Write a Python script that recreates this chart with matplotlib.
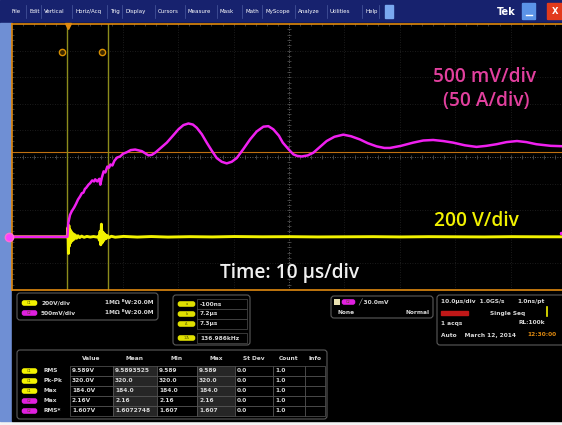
import matplotlib
matplotlib.use('Agg')
from matplotlib import pyplot as plt
from matplotlib.patches import Rectangle, FancyBboxPatch

# Waveforms, time in us from the trigger
# C2: current probe, 500 mV/div = 50 A/div
c2_time = [-10.1, -0.1, 0.05, 0.36, 0.67, 1.1, 1.45, 1.8, 2.18, 2.5,
           2.78, 3.05, 3.27, 3.69, 4.0, 4.36, 4.7, 4.9, 5.27, 5.64,
           5.82, 6.09, 6.42, 6.73, 7.09, 7.4, 7.64, 8.0, 8.36, 8.85,
           9.4, 9.9, 10.6, 11.3, 12.1, 13.3, 14.5, 15.1, 15.7, 16.7,
           17.8, 18.9, 19.9, 20.8, 21.7, 22.5, 23.2, 24.1, 25.0, 25.9,
           26.8, 27.7, 28.6, 29.5, 30.4, 31.6, 32.8, 34.0, 35.2, 36.1,
           37.0, 38.0, 38.7, 39.7, 40.6, 41.3, 42.1, 43.2, 44.2, 45.4,
           46.6, 48.0, 49.6, 51.0, 52.6, 54.0, 55.6, 57.0, 58.0, 60.0,
           62.2, 64.0, 65.8, 67.6, 69.4, 71.5, 73.6, 75.4, 77.2, 79.0,
           80.9, 82.6, 84.4, 87.0, 89.8]
c2_amps = [0, 0, 26, 41, 48, 55, 62, 70, 76, 82,
           83, 90, 92, 98, 101, 106, 104, 108, 104, 109,
           98, 111, 123, 121, 132, 130, 136, 134, 143, 149,
           151, 156, 159, 163, 164, 161, 153, 154, 158, 167,
           177, 190, 202, 210, 213, 211, 205, 193, 177, 162,
           148, 141, 138, 141, 148, 165, 183, 198, 207, 208,
           202, 190, 177, 165, 155, 152, 151, 153, 158, 169,
           180, 188, 192, 189, 183, 176, 170, 167, 167, 171,
           177, 181, 182, 180, 177, 172, 169, 171, 174, 178,
           180, 178, 174, 171, 170]

# C1: voltage, 200 V/div
c1_time = [-10.1, -0.15, 0.0, 0.08, 0.16, 0.25, 0.35, 0.47, 0.6, 0.75,
           0.92, 1.1, 1.3, 1.55, 1.8, 2.1, 2.45, 2.9, 3.4, 4.0,
           4.6, 5.2, 5.5, 5.65, 5.78, 5.9, 6.02, 6.15, 6.3, 6.45,
           6.65, 6.85, 7.1, 7.4, 7.8, 8.5, 10.0, 12.5, 15.0, 18.0,
           22.0, 26.0, 30.0, 35.0, 40.0, 45.0, 50.0, 55.0, 60.0, 65.0,
           70.0, 75.0, 80.0, 85.0, 89.8]
c1_volts = [0, 0, 70, -125, 85, -70, 55, -45, 38, -30,
            24, -18, 14, -11, 8, -6, 5, -4, 3, -2,
            2, -2, 4, -25, 40, -60, 95, -45, 35, -28,
            20, -14, 9, -6, 4, -3, 3, -2, 2, -2,
            1, -1, 2, 0, 1, -1, 0, 1, -1, 1,
            0, -1, 1, 0, 0]

c1_scale = 200.0   # V/div
c2_scale = 50.0    # A/div
ch_offset = -3.0   # both channels sit 3 div below centre
cursor_a = -0.1
cursor_b = 7.2
t_left, t_right = -10.09, 89.73

menu_items = ['File', 'Edit', 'Vertical', 'Horiz/Acq', 'Trig', 'Display', 'Cursors',
              'Measure', 'Mask', 'Math', 'MyScope', 'Analyze', 'Utilities', 'Help']
menu_x = [12, 29, 44, 75, 110, 125, 158, 188, 220, 245, 265, 298, 330, 365]

chan_setup = [('200V/div', '1M\u03a9 \u1d2eW:20.0M'), ('500mV/div', '1M\u03a9 \u1d2eW:20.0M')]
cursor_tags = ['a', 'b', '\u0394', '1/\u0394']
cursor_read = ['-100ns', '7.2\u00b5s', '7.3\u00b5s', '136.986kHz']

meas_cols = ['Value', 'Mean', 'Min', 'Max', 'St Dev', 'Count', 'Info']
meas_src = ['C1', 'C1', 'C1', 'C2', 'C2']
meas_name = ['RMS', 'Pk-Pk', 'Max', 'Max', 'RMS*']
meas_value = ['9.589V', '320.0V', '184.0V', '2.16V', '1.607V']
meas_mean = ['9.5893525', '320.0', '184.0', '2.16', '1.6072748']
meas_min = ['9.589', '320.0', '184.0', '2.16', '1.607']
meas_max = ['9.589', '320.0', '184.0', '2.16', '1.607']
meas_std = ['0.0', '0.0', '0.0', '0.0', '0.0']
meas_count = ['1.0', '1.0', '1.0', '1.0', '1.0']

W, H = 562, 425
YEL = '#f2f200'
MAG = '#f020f0'
ORANGE = '#e08a10'
UI_TXT = '#d8d8d8'

fig = plt.figure(figsize=(W / 100, H / 100), dpi=100, facecolor='#f4f4f4')

# full-figure pixel axes for the scope chrome
ui = fig.add_axes([0, 0, 1, 1])
ui.set_xlim(0, W)
ui.set_ylim(H, 0)
ui.axis('off')

ui.add_patch(Rectangle((0, 0), W, 23, color='#17226e'))
ui.add_patch(Rectangle((0, 23), 12, 398, color='#6f8fd4'))
ui.add_patch(Rectangle((12, 23), W, 398, color='black'))

for name, x in zip(menu_items, menu_x):
    ui.text(x, 11.5, name, color='white', fontsize=4, va='center', ha='left')
for x in menu_x[1:] + [382]:
    ui.plot([x - 3, x - 3], [5, 18], color='#4a5aa0', lw=0.5)
ui.add_patch(Rectangle((385, 5), 8, 13, color='#7aa8f0'))
ui.text(506, 11.5, 'Tek', color='white', fontsize=7, fontweight='bold', va='center', ha='center')
ui.add_patch(FancyBboxPatch((523, 4), 12, 15, boxstyle='round,pad=0.5', color='#5b93e8'))
ui.plot([526, 532], [15, 15], color='white', lw=1)
ui.add_patch(FancyBboxPatch((548, 4), 16, 15, boxstyle='round,pad=0.5', color='#e23a1c'))
ui.text(555, 11.5, 'X', color='white', fontsize=6, fontweight='bold', va='center', ha='center')


def badge(x, y, color, label, w=15):
    ui.add_patch(FancyBboxPatch((x, y - 2.5), w, 5, boxstyle='round,pad=0.3,rounding_size=2.5',
                                fc=color, ec='none'))
    ui.text(x + w / 2, y, label, color='#505000', fontsize=2.5, va='center', ha='center')


def box(x0, y0, x1, y1):
    ui.add_patch(FancyBboxPatch((x0, y0), x1 - x0, y1 - y0, boxstyle='round,pad=0,rounding_size=3',
                                fc='black', ec='#5a5a5a', lw=0.8))


def txt(x, y, s, color=UI_TXT, ha='left', size=4.2):
    ui.text(x, y, s, color=color, fontsize=size, va='center', ha=ha, fontweight='bold')


# channel setup box
box(17, 293, 158, 320)
for i, (scale, bw) in enumerate(chan_setup):
    y = 303 + 10 * i
    badge(22, y, YEL if i == 0 else '#e020e0', 'C%d' % (i + 1))
    txt(41, y, scale)
    txt(105, y, bw)

# cursor readout box
box(173, 295, 250, 345)
for i, (tag, val) in enumerate(zip(cursor_tags, cursor_read)):
    y = [304, 314, 324, 338][i]
    badge(178, y, '#e0e000', tag, w=17)
    ui.add_patch(Rectangle((197, y - 5), 50, 10, fc='black', ec='#505050', lw=0.5))
    txt(200, y, val)

# trigger box
box(331, 296, 433, 318)
ui.add_patch(Rectangle((334, 299), 6, 6, fc='#e8e0b0', ec='none'))
badge(342, 302, '#e020e0', 'C2', w=13)
txt(358, 302, '\u2571 30.0mV')
txt(337, 313, 'None')
txt(430, 313, 'Normal', ha='right')

# acquisition box
box(437, 295, 575, 345)
txt(441, 301, '10.0\u00b5s/div  1.0GS/s')
txt(545, 301, '1.0ns/pt', ha='right')
ui.add_patch(Rectangle((441, 311), 27, 4, color='#c01818'))
txt(490, 313, 'Single Seq')
ui.plot([547, 547], [307, 316], color=YEL, lw=1.2)
txt(441, 323, '1 acqs')
txt(545, 323, 'RL:100k', ha='right')
txt(441, 335, 'Auto    March 12, 2014')
txt(556, 335, '12:30:00', color=ORANGE, ha='right')

# measurement table
box(17, 350, 327, 419)
col_edges = [70, 113, 157, 197, 235, 273, 305, 325]
row_top = 366
row_h = 10
for j, name in enumerate(meas_cols):
    txt((col_edges[j] + col_edges[j + 1]) / 2, 359, name, ha='center')
table_cols = [meas_value, meas_mean, meas_min, meas_max, meas_std, meas_count]
for i in range(len(meas_name)):
    y = row_top + row_h * i
    badge(22, y + 5, YEL if meas_src[i] == 'C1' else '#e020e0', meas_src[i])
    txt(43, y + 5, meas_name[i])
    for j in range(len(col_edges) - 1):
        shade = '#262626' if j in (1, 3) else 'black'
        ui.add_patch(Rectangle((col_edges[j], y), col_edges[j + 1] - col_edges[j], row_h,
                               fc=shade, ec='#5a5a5a', lw=0.5))
        if j < len(table_cols):
            txt(col_edges[j] + 2, y + 5, table_cols[j][i])

# graticule / waveform axes
ax = fig.add_axes([12 / W, 1 - 290 / H, 554 / W, 266 / H])
ax.set_facecolor('black')
ax.set_xlim(t_left, t_right)
ax.set_ylim(-5, 5)
ax.set_xticks([])
ax.set_yticks([])
for side in ['left', 'top', 'bottom']:
    ax.spines[side].set_color(ORANGE)
    ax.spines[side].set_linewidth(1.2)
ax.spines['right'].set_visible(False)

dt = (t_right - t_left) / 10
for k in range(1, 10):
    c = '#7a7a7a' if k == 5 else '#242424'
    ax.axvline(t_left + k * dt, color=c, lw=0.6, ls=(0, (1, 2)))
    ax.axhline(-5 + k, color=c, lw=0.6, ls=(0, (1, 2)))
minor_t = [t_left + k * dt / 5 for k in range(1, 50)]
minor_y = [-5 + k / 5 for k in range(1, 50)]
ax.plot(minor_t, [0] * len(minor_t), ls='', marker='|', ms=3, color='#5a5a5a', mew=0.5)
ax.plot([t_left + 5 * dt] * len(minor_y), minor_y, ls='', marker='_', ms=3, color='#5a5a5a', mew=0.5)
ax.plot([t_left] * len(minor_y), minor_y, ls='', marker='_', ms=3, color='#505050', mew=0.5)
ax.plot(minor_t, [5] * len(minor_t), ls='', marker='|', ms=3, color='#505050', mew=0.5)

ax.axhline(0.19, color='#c07010', lw=0.8)
for tc in (cursor_a, cursor_b):
    ax.axvline(tc, color='#8c8c1c', lw=1.0)
ax.plot([-1.08, 6.13], [3.95, 3.95], ls='', marker='o', ms=4.5, mfc='#3a2800', mec='#d89000', mew=1)
ax.plot([0], [4.93], marker='v', ms=5, color=ORANGE, clip_on=False)

c1_y = [v / c1_scale + ch_offset for v in c1_volts]
c2_y = [a / c2_scale + ch_offset for a in c2_amps]
ax.plot(c1_time, c1_y, color=YEL, lw=2.1, solid_joinstyle='round', zorder=4)
ax.plot(c2_time, c2_y, color=MAG, lw=1.8, solid_joinstyle='round', zorder=5)
ax.plot([t_left - 0.55], [ch_offset], marker='o', ms=6, mfc='#ff40ff', mec='#ff70d0', clip_on=False, zorder=6)
ax.plot([88.8], [ch_offset + 0.15], marker='o', ms=1.5, color=MAG, zorder=6)


def px(x, y):
    return x / W, 1 - y / H


lab = dict(family='Open Sans', fontsize=13.8, fontweight='semibold', ha='center', va='baseline')
fig.text(*px(485, 82), '500 mV/div', color='#e2409e', **lab)
fig.text(*px(486, 106), '(50 A/div)', color='#e2409e', **lab)
fig.text(*px(476, 226), '200 V/div', color=YEL, **lab)
fig.text(*px(290, 278), 'Time: 10 \u00b5s/div', color='#f0f0f0', **lab)

fig.savefig('out.png', dpi=100, facecolor=fig.get_facecolor())
